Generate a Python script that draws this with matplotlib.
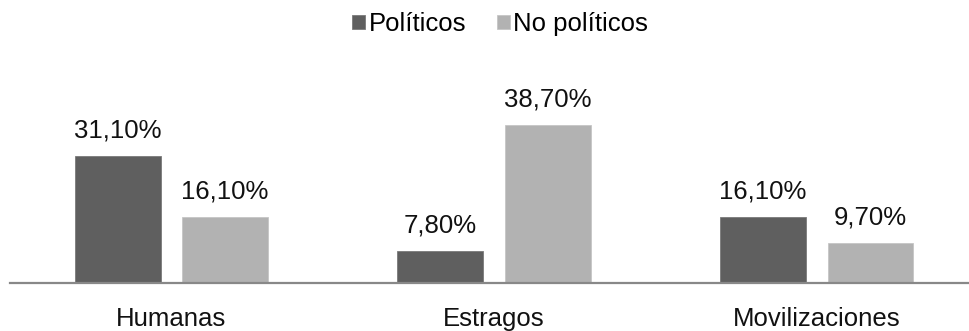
import matplotlib.pyplot as plt

plt.rcParams['font.family'] = ['Liberation Sans', 'DejaVu Sans']

categorias = ['Humanas', 'Estragos', 'Movilizaciones']
politicos = [31.1, 7.8, 16.1]
no_politicos = [16.1, 38.7, 9.7]
series = ['Políticos', 'No políticos']

oscuro = '#5f5f5f'
claro = '#b2b2b2'


def etiqueta(v):
    return f'{v:.2f}'.replace('.', ',') + '%'


fig = plt.figure(figsize=(9.7, 3.31), dpi=100)
ax = fig.add_axes([10 / 970, 48 / 331, 960 / 970, 203 / 331])

x = list(range(len(categorias)))
ancho = 0.266
desp = 0.1665

b1 = ax.bar([i - desp for i in x], politicos, ancho, color=oscuro,
            edgecolor='#7a7a7a', linewidth=0.6, label=series[0])
b2 = ax.bar([i + desp for i in x], no_politicos, ancho, color=claro,
            edgecolor='#c6c6c6', linewidth=0.6, label=series[1])

for barras, vals in [(b1, politicos), (b2, no_politicos)]:
    for b, v in zip(barras, vals):
        ax.annotate(etiqueta(v), (b.get_x() + b.get_width() / 2, v),
                    xytext=(0, 13.5), textcoords='offset points',
                    ha='center', va='baseline', fontsize=18.5, color='#111111')

ax.set_xlim(-0.5, 2.475)
ax.set_ylim(0, 49.75)
ax.set_xticks(x)
ax.set_xticklabels(categorias, fontsize=18.5, color='#111111')
ax.tick_params(axis='x', length=0, pad=17.5)
ax.set_yticks([])

for s in ['top', 'right', 'left']:
    ax.spines[s].set_visible(False)
ax.spines['bottom'].set_color('#888888')
ax.spines['bottom'].set_linewidth(1.6)

fig.legend(handles=[b1, b2], labels=series, loc='center',
           bbox_to_anchor=(500 / 970, 1 - 24 / 331), ncol=2, frameon=False,
           fontsize=18.5, handlelength=0.5, handleheight=0.5,
           handletextpad=0.12, columnspacing=1.2, borderpad=0)

fig.savefig('out.png', dpi=100)
